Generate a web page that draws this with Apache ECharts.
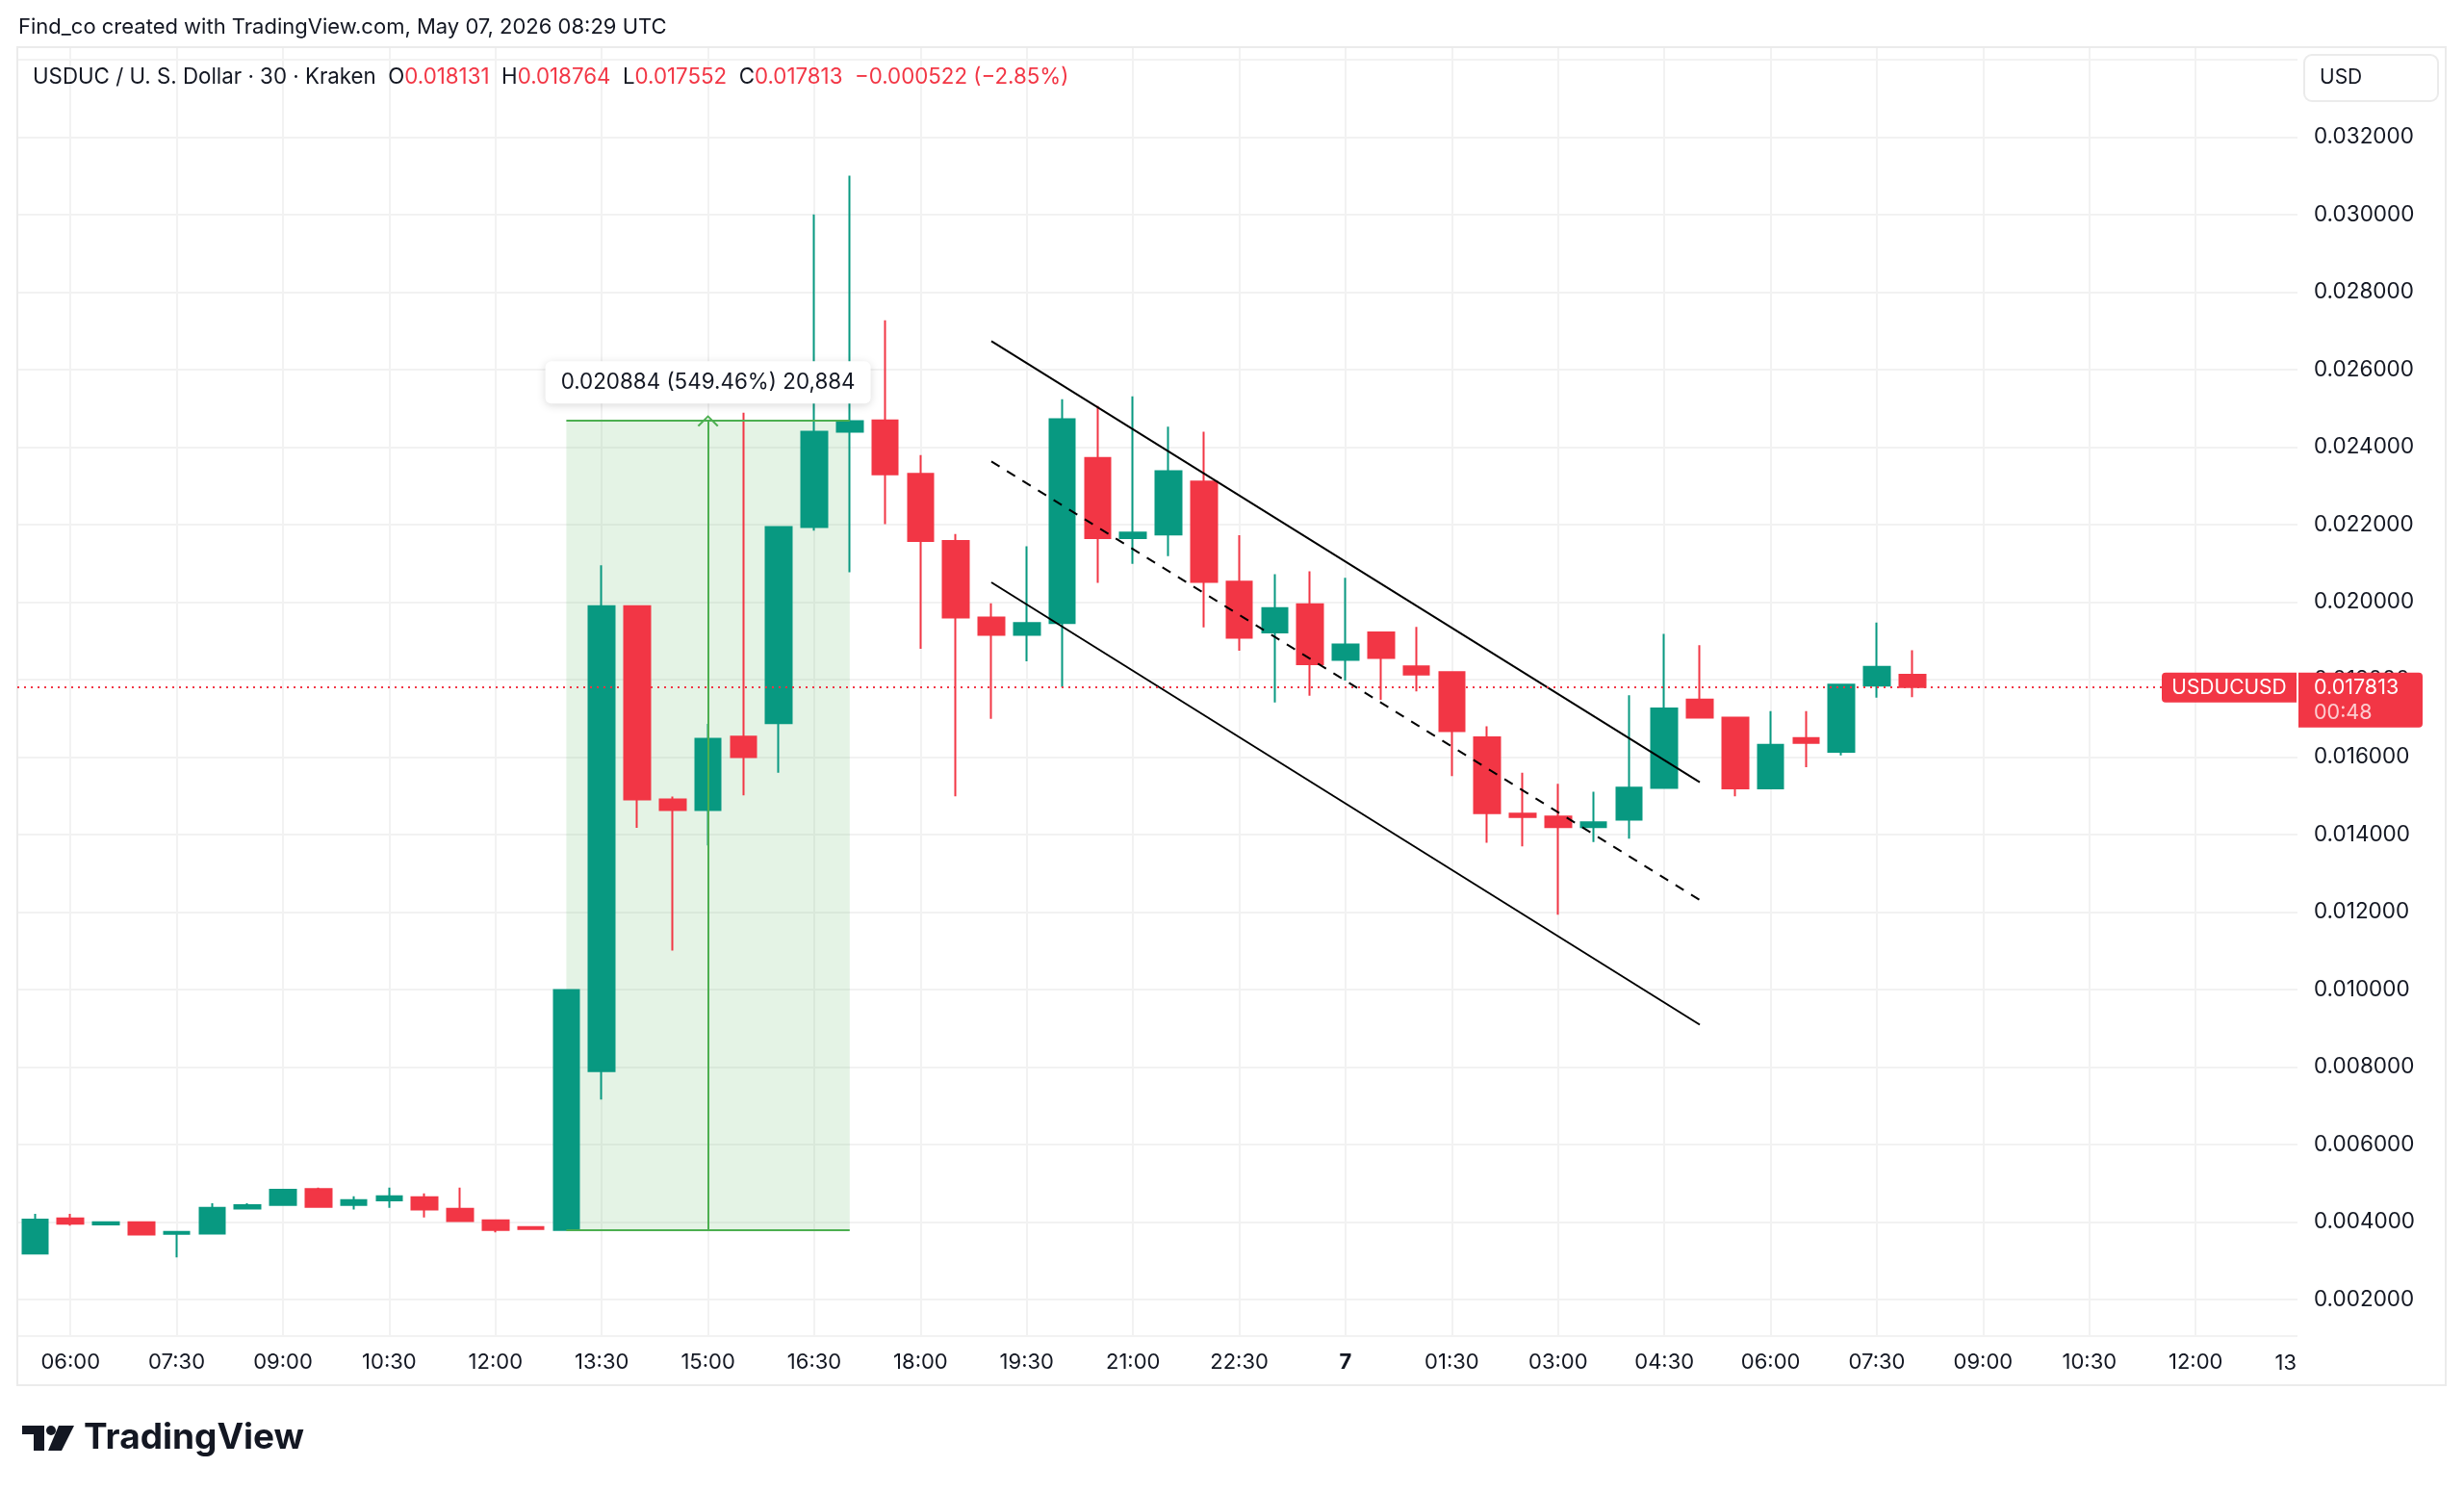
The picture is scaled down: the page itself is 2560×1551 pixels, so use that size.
<!DOCTYPE html>
<html>
<head>
<meta charset="utf-8">
<script src="https://cdn.jsdelivr.net/npm/echarts@6/dist/echarts.min.js"></script>
<style>
  html, body { margin: 0; padding: 0; background: #fff; }
  #chart { width: 2560px; height: 1551px; }
</style>
</head>
<body>
<div id="chart"></div>
<script>
// 30 min candles, USDUC / USD (Kraken)
const times = [
  '05:30', '06:00', '06:30', '07:00', '07:30', '08:00', '08:30', '09:00', '09:30', '10:00',
  '10:30', '11:00', '11:30', '12:00', '12:30', '13:00', '13:30', '14:00', '14:30', '15:00',
  '15:30', '16:00', '16:30', '17:00', '17:30', '18:00', '18:30', '19:00', '19:30', '20:00',
  '20:30', '21:00', '21:30', '22:00', '22:30', '23:00', '23:30', '00:00', '00:30', '01:00',
  '01:30', '02:00', '02:30', '03:00', '03:30', '04:00', '04:30', '05:00', '05:30', '06:00',
  '06:30', '07:00', '07:30', '08:00'
]
const opens = [
  0.003190, 0.004100, 0.003940, 0.004000, 0.003700, 0.003710, 0.004356, 0.004447, 0.004853, 0.004447,
  0.004563, 0.004646, 0.004348, 0.004050, 0.003876, 0.003801, 0.007898, 0.019902, 0.014911, 0.014638,
  0.016532, 0.016878, 0.021942, 0.024401, 0.024695, 0.023314, 0.021581, 0.019609, 0.019162, 0.019467,
  0.023724, 0.021657, 0.021752, 0.023114, 0.020533, 0.019225, 0.019952, 0.018512, 0.019221, 0.018347,
  0.018195, 0.016514, 0.014547, 0.014471, 0.014198, 0.014392, 0.015210, 0.017490, 0.017025, 0.015198,
  0.016496, 0.016141, 0.017851, 0.018131
]
const highs = [
  0.004215, 0.004215, 0.004000, 0.004025, 0.003750, 0.004490, 0.004490, 0.004836, 0.004894, 0.004671,
  0.004894, 0.004745, 0.004894, 0.004050, 0.003876, 0.010000, 0.020958, 0.019902, 0.014984, 0.016860,
  0.024893, 0.021942, 0.030011, 0.031013, 0.027276, 0.023800, 0.021762, 0.019971, 0.021448, 0.025238,
  0.025067, 0.025314, 0.024533, 0.024400, 0.021733, 0.020728, 0.020800, 0.020632, 0.019221, 0.019364,
  0.018195, 0.016799, 0.015601, 0.015316, 0.015112, 0.017600, 0.019188, 0.018896, 0.017025, 0.017190,
  0.017190, 0.017876, 0.019479, 0.018764
]
const lows = [
  0.003190, 0.003910, 0.003940, 0.003685, 0.003090, 0.003710, 0.004330, 0.004447, 0.004373, 0.004331,
  0.004373, 0.004124, 0.004033, 0.003735, 0.003826, 0.003801, 0.007169, 0.014182, 0.011013, 0.013727,
  0.015020, 0.015603, 0.021850, 0.020776, 0.022019, 0.018800, 0.014990, 0.016990, 0.018476, 0.017810,
  0.020505, 0.020990, 0.021190, 0.019352, 0.018752, 0.017413, 0.017590, 0.017978, 0.017483, 0.017701,
  0.015516, 0.013796, 0.013701, 0.011934, 0.013813, 0.013900, 0.015210, 0.017026, 0.014992, 0.015198,
  0.015744, 0.016050, 0.017537, 0.017552
]
const closes = [
  0.004066, 0.003960, 0.004000, 0.003685, 0.003750, 0.004373, 0.004439, 0.004836, 0.004397, 0.004571,
  0.004671, 0.004331, 0.004033, 0.003801, 0.003826, 0.009993, 0.019902, 0.014911, 0.014638, 0.016477,
  0.016004, 0.021942, 0.024401, 0.024674, 0.023305, 0.021581, 0.019609, 0.019162, 0.019467, 0.024724,
  0.021657, 0.021800, 0.023381, 0.020524, 0.019086, 0.019852, 0.018402, 0.018912, 0.018566, 0.018138,
  0.016675, 0.014556, 0.014461, 0.014195, 0.014321, 0.015218, 0.017260, 0.017026, 0.015198, 0.016322,
  0.016372, 0.017876, 0.018335, 0.017813
]
const tickLabels = [
  '06:00', '07:30', '09:00', '10:30', '12:00', '13:30', '15:00', '16:30', '18:00', '19:30', '21:00',
  '22:30', '7', '01:30', '03:00', '04:30', '06:00', '07:30', '09:00', '10:30', '12:00'
]

// drawings: parallel channel (candle index of start/end, prices)
const channelIdx = [27, 47]
const channelUpper = [0.026740, 0.015354]
const channelMid = [0.023637, 0.012316]
const channelLower = [0.020514, 0.009098]

// price range measure
const measureIdx = [15, 23]
const measureMidIdx = 19
const measureLow = 0.0038008
const measureHigh = 0.0246848

const UP = '#089981'
const DOWN = '#f23645'
const TEXT = '#131722'
const GRID = '#f2f2f2'
const FONT = 'Inter, Roboto, sans-serif'
const X_MIN = -1.5
const X_MAX = 62.875

// x value = candle index - 1, so 06:00 sits on 0 and ticks land every 3 slots
const xOf = i => i - 1
const candles = times.map((t, i) => [xOf(i), opens[i], closes[i], lows[i], highs[i]])
const n = closes.length
const last = closes[n - 1]

const chart = echarts.init(document.getElementById('chart'))

const chevron = 'path://M0,10 L10,0 L20,10 L18.5,11 L10,2.5 L1.5,11 Z'
const measureStyle = { color: '#4caf50', width: 2, type: 'solid' }

chart.setOption({
  animation: false,
  backgroundColor: '#ffffff',
  grid: { left: 18, right: 173, top: 49, bottom: 163 },
  xAxis: {
    type: 'value',
    min: X_MIN,
    max: X_MAX,
    splitNumber: 21,
    axisLine: { show: false },
    axisTick: { show: false },
    axisLabel: {
      margin: 16,
      showMinLabel: false,
      showMaxLabel: false,
      color: TEXT,
      fontSize: 22,
      fontFamily: FONT,
      formatter: function(v) {
        let k = v / 3
        if (Math.abs(k - Math.round(k)) > 1e-6) return ''
        let s = tickLabels[Math.round(k)]
        if (!s) return ''
        return s === '7' ? '{b|7}' : s
      },
      rich: { b: { fontWeight: 'bold', fontSize: 22, fontFamily: FONT, color: TEXT } }
    },
    splitLine: { show: true, showMinLine: false, showMaxLine: false, lineStyle: { color: GRID, width: 2 } }
  },
  yAxis: {
    type: 'value',
    position: 'right',
    min: 0.001061,
    max: 0.034328,
    splitNumber: 16,
    axisLine: { show: false },
    axisTick: { show: false },
    axisLabel: {
      margin: 17,
      showMinLabel: false,
      showMaxLabel: false,
      color: TEXT,
      fontSize: 22.5,
      fontFamily: FONT,
      formatter: function(v) {
        let k = v / 0.002
        if (Math.abs(k - Math.round(k)) > 1e-6 || v > 0.0335) return ''
        return v.toFixed(6)
      }
    },
    splitLine: { show: true, lineStyle: { color: GRID, width: 2 } }
  },
  series: [
    {
      name: 'USDUCUSD',
      type: 'candlestick',
      data: candles,
      dimensions: ['x', 'open', 'close', 'lowest', 'highest'],
      encode: { x: 0, y: [1, 2, 3, 4] },
      barWidth: 27,
      itemStyle: {
        color: UP,
        color0: DOWN,
        borderColor: UP,
        borderColor0: DOWN,
        borderWidth: 2
      },
      markArea: {
        silent: true,
        itemStyle: { color: 'rgba(76,175,80,0.15)' },
        data: [[
          { coord: [xOf(measureIdx[0]), measureHigh] },
          { coord: [xOf(measureIdx[1]), measureLow] }
        ]]
      },
      markLine: {
        silent: true,
        symbol: 'none',
        label: { show: false },
        precision: 6,
        data: [
          [
            { coord: [X_MIN, last], lineStyle: { color: DOWN, width: 2, type: [2, 5] } },
            { coord: [X_MAX, last] }
          ],
          [
            { coord: [xOf(measureIdx[0]), measureHigh], lineStyle: measureStyle },
            { coord: [xOf(measureIdx[1]), measureHigh] }
          ],
          [
            { coord: [xOf(measureIdx[0]), measureLow], lineStyle: measureStyle },
            { coord: [xOf(measureIdx[1]), measureLow] }
          ],
          [
            { coord: [xOf(measureMidIdx), measureLow], symbol: 'none', lineStyle: measureStyle },
            { coord: [xOf(measureMidIdx), measureHigh], symbol: chevron, symbolSize: [22, 12] }
          ]
        ]
      }
    },
    {
      type: 'line',
      data: [[xOf(channelIdx[0]), channelUpper[0]], [xOf(channelIdx[1]), channelUpper[1]]],
      symbol: 'none',
      silent: true,
      lineStyle: { color: '#000', width: 2 }
    },
    {
      type: 'line',
      data: [[xOf(channelIdx[0]), channelMid[0]], [xOf(channelIdx[1]), channelMid[1]]],
      symbol: 'none',
      silent: true,
      lineStyle: { color: '#000', width: 2, type: [10, 9] }
    },
    {
      type: 'line',
      data: [[xOf(channelIdx[0]), channelLower[0]], [xOf(channelIdx[1]), channelLower[1]]],
      symbol: 'none',
      silent: true,
      lineStyle: { color: '#000', width: 2 }
    }
  ]
})

// overlays placed through the chart's own scales
const chg = last - closes[n - 2]
const pct = chg / closes[n - 2] * 100
const minus = s => s.replace('-', '\u2212')
const py = chart.convertToPixel({ yAxisIndex: 0 }, last)
const mx = chart.convertToPixel({ xAxisIndex: 0 }, xOf(measureMidIdx))
const my = chart.convertToPixel({ yAxisIndex: 0 }, measureHigh)
const measureText = (measureHigh - measureLow).toFixed(6) + ' (' +
  ((measureHigh - measureLow) / measureLow * 100).toFixed(2) + '%) ' +
  Math.round((measureHigh - measureLow) * 1e6).toLocaleString('en-US')

chart.setOption({
  graphic: [
    {
      type: 'text', x: 19, y: 28,
      style: { text: 'Find_co created with TradingView.com, May 07, 2026 08:29 UTC', font: '22px ' + FONT, fill: TEXT, verticalAlign: 'middle' }
    },
    {
      type: 'rect', z: 0, silent: true,
      shape: { x: 18, y: 49, width: 2523, height: 1390 },
      style: { fill: 'none', stroke: '#ebebeb', lineWidth: 2 }
    },
    {
      type: 'text', x: 34, y: 80, z: 50,
      style: {
        text: '{d|USDUC / U. S. Dollar · 30 · Kraken}  {d|O}{r|' + opens[n - 1].toFixed(6) + '}  {d|H}{r|' +
          highs[n - 1].toFixed(6) + '}  {d|L}{r|' + lows[n - 1].toFixed(6) + '}  {d|C}{r|' + last.toFixed(6) +
          '}  {r|' + minus(chg.toFixed(6)) + ' (' + minus(pct.toFixed(2)) + '%)}',
        font: '22.3px ' + FONT,
        fill: TEXT,
        verticalAlign: 'middle',
        rich: {
          d: { fill: TEXT, font: '22.3px ' + FONT },
          r: { fill: DOWN, font: '22.3px ' + FONT }
        }
      }
    },
    {
      type: 'rect', z: 50,
      shape: { x: 2394, y: 57, width: 139, height: 48, r: 8 },
      style: { fill: '#fff', stroke: '#ebebeb', lineWidth: 2 }
    },
    {
      type: 'text', x: 2410, y: 81, z: 51,
      style: { text: 'USD', font: '21px ' + FONT, fill: TEXT, verticalAlign: 'middle' }
    },
    {
      type: 'rect', z: 50,
      shape: { x: 2246, y: py - 15, width: 140, height: 31, r: [4, 0, 0, 4] },
      style: { fill: DOWN }
    },
    {
      type: 'text', x: 2316, y: py + 1, z: 51,
      style: { text: 'USDUCUSD', font: '21px ' + FONT, fill: '#fff', align: 'center', verticalAlign: 'middle' }
    },
    {
      type: 'rect', z: 50,
      shape: { x: 2388, y: py - 15, width: 129, height: 57, r: [0, 4, 4, 0] },
      style: { fill: DOWN }
    },
    {
      type: 'text', x: 2404, y: py + 1, z: 51,
      style: { text: last.toFixed(6), font: '21.5px ' + FONT, fill: '#fff', verticalAlign: 'middle' }
    },
    {
      type: 'text', x: 2404, y: py + 27, z: 51,
      style: { text: '00:48', font: '21.5px ' + FONT, fill: 'rgba(255,255,255,0.75)', verticalAlign: 'middle' }
    },
    {
      type: 'rect', z: 50,
      shape: { x: mx - 169, y: my - 62, width: 338, height: 44, r: 6 },
      style: { fill: '#fff', shadowBlur: 10, shadowColor: 'rgba(0,0,0,0.15)', shadowOffsetY: 2 }
    },
    {
      type: 'text', x: mx, y: my - 40, z: 51,
      style: { text: measureText, font: '22.4px ' + FONT, fill: TEXT, align: 'center', verticalAlign: 'middle' }
    },
    {
      type: 'text', x: 2386, y: 1416,
      style: { text: '13', font: '22px ' + FONT, fill: TEXT, align: 'right', verticalAlign: 'middle' }
    },
    // TradingView logo
    {
      type: 'polygon',
      shape: { points: [[23, 1481], [46, 1481], [46, 1507], [35, 1507], [35, 1490], [23, 1490]] },
      style: { fill: TEXT }
    },
    {
      type: 'circle',
      shape: { cx: 53, cy: 1486, r: 5 },
      style: { fill: TEXT }
    },
    {
      type: 'polygon',
      shape: { points: [[61, 1481], [77, 1481], [64, 1507], [50, 1507]] },
      style: { fill: TEXT }
    },
    {
      type: 'text', x: 87, y: 1494,
      style: { text: 'TradingView', font: 'bold 37px ' + FONT, fill: TEXT, verticalAlign: 'middle' }
    }
  ]
})
</script>
</body>
</html>
